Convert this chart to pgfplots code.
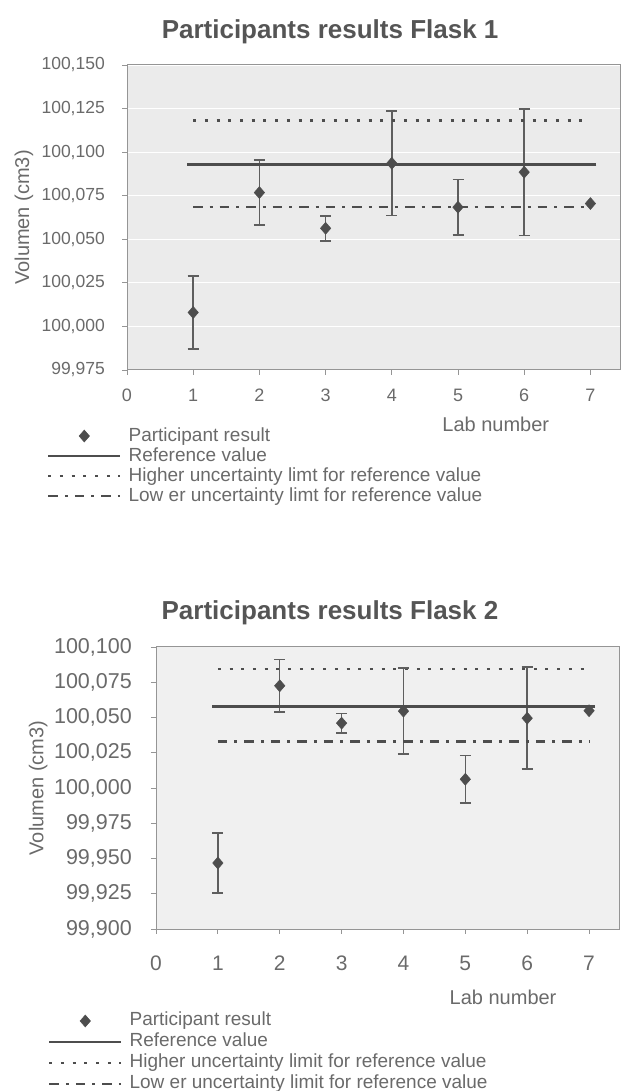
\documentclass[border=0pt]{standalone}
\usepackage{fontspec}
\setmainfont{Liberation Sans}
\usepackage{pgfplots}
\usepackage{pgfplotstable}
\pgfplotsset{compat=1.18}
\definecolor{txt}{HTML}{6A6A6A}
\definecolor{ttl}{HTML}{555555}
\definecolor{mk}{HTML}{4D4D4D}
\definecolor{eb}{HTML}{5E5E5E}
\definecolor{bgA}{HTML}{EBEBEB}
\definecolor{bgB}{HTML}{F0F0F0}
\definecolor{ax}{HTML}{959595}
\pgfdeclareplotmark{dmd}{%
  \pgfpathmoveto{\pgfqpoint{0pt}{1.15\pgfplotmarksize}}%
  \pgfpathlineto{\pgfqpoint{\pgfplotmarksize}{0pt}}%
  \pgfpathlineto{\pgfqpoint{0pt}{-1.15\pgfplotmarksize}}%
  \pgfpathlineto{\pgfqpoint{-\pgfplotmarksize}{0pt}}%
  \pgfpathclose\pgfusepathqfillstroke}
\pgfdeclareplotmark{cap}{%
  \pgfpathmoveto{\pgfqpoint{-\pgfplotmarksize}{0pt}}%
  \pgfpathlineto{\pgfqpoint{\pgfplotmarksize}{0pt}}%
  \pgfusepathqstroke}
\pgfplotstableread{
x y e
1 100.0080 0.0210
2 100.0768 0.0187
3 100.0563 0.0072
4 100.0936 0.0300
5 100.0684 0.0160
6 100.0885 0.0362
7 100.0705 0.0000
}\flaskA
\pgfplotstableread{
x y e
1 99.9468 0.0213
2 100.0725 0.0187
3 100.0460 0.0070
4 100.0545 0.0305
5 100.0062 0.0168
6 100.0495 0.0362
7 100.0548 0.0000
}\flaskB
\pgfplotsset{
  flask/.style={
    scale only axis, anchor=south west, xmin=0,
    clip=false,
    axis line style={draw=ax, line width=1pt},
    tick style={draw=ax, line width=0.9pt},
    tick align=outside, major tick length=5pt, tick pos=left,
    xtick={0,1,2,3,4,5,6,7},
    /pgf/number format/assume math mode=true,
    y tick label style={/pgf/number format/fixed, /pgf/number format/fixed zerofill, /pgf/number format/precision=3, /pgf/number format/use comma, /pgf/number format/1000 sep={}},
    ticklabel style={text=txt},
    legend cell align=left,
    legend image code/.code={\draw[mark repeat=2,mark phase=2,##1] plot coordinates {(0pt,0pt) (36pt,0pt) (72pt,0pt)};},
    legend style={draw=none, fill=none, inner sep=0pt, outer sep=0pt, anchor=north west,
      font=\fontsize{19}{21}\selectfont, text=txt, row sep=2pt,
      nodes={inner sep=0pt, text height=14pt, text depth=4pt},
      /tikz/every odd column/.append style={column sep=7pt}},
  },
  part/.style={only marks, mark=dmd, mark size=5.2pt, color=mk, mark options={fill=mk, draw=mk, line width=0.5pt},
    error bars/.cd, y dir=both, y explicit, error mark=none, error bar style={line width=1.5pt, color=eb}},
  caps/.style={only marks, forget plot, mark=cap, mark size=5.5pt, mark options={draw=eb, line width=1.5pt}, skip coords between index={6}{7}},
  refl/.style={draw=mk, line width=2.6pt, mark=-, mark size=6pt, mark options={line width=2.6pt, draw=mk}},
  high/.style={draw=mk, line width=2.6pt, dash pattern=on 3pt off 8.7pt, no marks},
  low/.style={draw=mk, line width=2.6pt, dash pattern=on 9.5pt off 7pt on 3pt off 7pt, no marks},
}
\begin{document}
\begin{tikzpicture}
\useasboundingbox (0,0) rectangle (623pt,1091pt);
% ---------------- Flask 1 ----------------
\begin{axis}[flask, at={(127pt,721pt)}, width=493pt, height=305pt,
  xmax=7.447, ymin=99.975, ymax=100.150,
  ytick={99.975,100.000,100.025,100.050,100.075,100.100,100.125,100.150},
  ymajorgrids, major grid style={draw=white, line width=1.2pt},
  axis background/.style={fill=bgA},
  xticklabel style={font=\fontsize{18}{20}\selectfont, anchor=north, inner sep=0pt, yshift=-14pt},
  yticklabel style={font=\fontsize{17.5}{20}\selectfont, anchor=east, inner sep=0pt, xshift=-17pt},
  title={Participants results Flask 1},
  title style={at={(axis description cs:0.412,1.066)}, anchor=base, font=\bfseries\fontsize{26}{30}\selectfont, text=ttl},
  xlabel={Lab number},
  xlabel style={at={(axis description cs:0.748,-0.177)}, anchor=center, font=\fontsize{20}{24}\selectfont, text=txt},
  ylabel={Volumen (cm3)},
  ylabel style={at={(axis description cs:-0.209,0.5)}, anchor=center, font=\fontsize{20}{24}\selectfont, text=txt},
  legend style={at={(axis description cs:-0.1623,-0.187)}},
]
\addplot[caps] table[x=x, y expr=\thisrow{y}+\thisrow{e}] {\flaskA};
\addplot[caps] table[x=x, y expr=\thisrow{y}-\thisrow{e}] {\flaskA};
\addplot[part] table[x=x, y=y, y error=e] {\flaskA};
\addlegendentry{Participant result}
\addplot[refl] coordinates {(1,100.0929) (2,100.0929) (3,100.0929) (4,100.0929) (5,100.0929) (6,100.0929) (7,100.0929)};
\addlegendentry{Reference value}
\addplot[high] coordinates {(1,100.1181) (7,100.1181)};
\addlegendentry{Higher uncertainty limt for reference value}
\addplot[low] coordinates {(1,100.0686) (7,100.0686)};
\addlegendentry{Low er uncertainty limt for reference value}
\end{axis}
% ---------------- Flask 2 ----------------
\begin{axis}[flask, at={(156pt,162pt)}, width=464pt, height=282pt,
  xmax=7.50, ymin=99.900, ymax=100.100,
  ytick={99.900,99.925,99.950,99.975,100.000,100.025,100.050,100.075,100.100},
  axis background/.style={fill=bgB},
  xticklabel style={font=\fontsize{21}{24}\selectfont, anchor=north, inner sep=0pt, yshift=-22pt},
  yticklabel style={font=\fontsize{21.5}{24}\selectfont, anchor=east, inner sep=0pt, xshift=-19pt},
  title={Participants results Flask 2},
  title style={at={(axis description cs:0.375,1.078)}, anchor=base, font=\bfseries\fontsize{26}{30}\selectfont, text=ttl},
  xlabel={Lab number},
  xlabel style={at={(axis description cs:0.748,-0.241)}, anchor=center, font=\fontsize{20}{24}\selectfont, text=txt},
  ylabel={Volumen (cm3)},
  ylabel style={at={(axis description cs:-0.254,0.5)}, anchor=center, font=\fontsize{20}{24}\selectfont, text=txt},
  legend style={at={(axis description cs:-0.2328,-0.2943)}, row sep=3pt},
]
\addplot[caps] table[x=x, y expr=\thisrow{y}+\thisrow{e}] {\flaskB};
\addplot[caps] table[x=x, y expr=\thisrow{y}-\thisrow{e}] {\flaskB};
\addplot[part] table[x=x, y=y, y error=e] {\flaskB};
\addlegendentry{Participant result}
\addplot[refl] coordinates {(1,100.0580) (2,100.0580) (3,100.0580) (4,100.0580) (5,100.0580) (6,100.0580) (7,100.0580)};
\addlegendentry{Reference value}
\addplot[high] coordinates {(1,100.0845) (7,100.0845)};
\addlegendentry{Higher uncertainty limit for reference value}
\addplot[low] coordinates {(1,100.0330) (7,100.0330)};
\addlegendentry{Low er uncertainty limit for reference value}
\end{axis}
\end{tikzpicture}
\end{document}
